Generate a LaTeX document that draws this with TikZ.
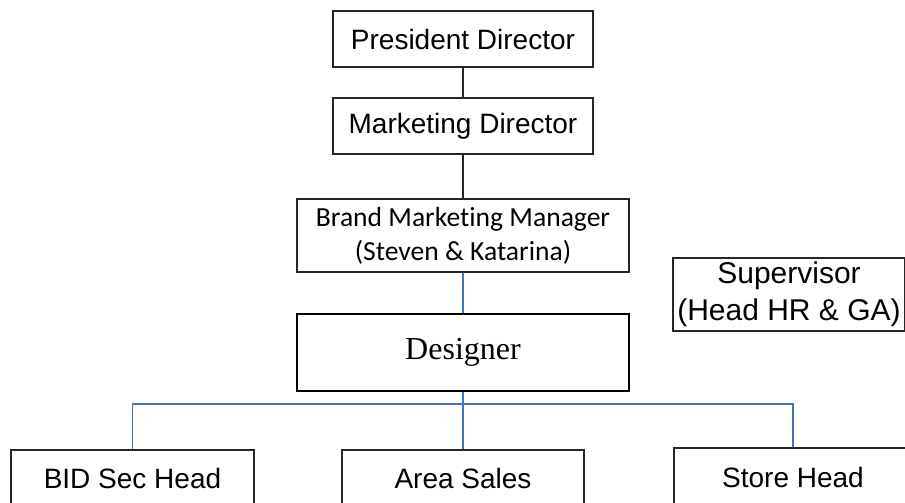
\documentclass[tikz,border=0pt]{standalone}
\usepackage{fontspec}
\setmainfont{Liberation Sans}
\newfontfamily\calibrifont[Ligatures={NoCommon}]{Carlito}
\newfontfamily\timesfont{Liberation Serif}
\usepackage{tikz}

\definecolor{linkblue}{HTML}{4472C4}
\tikzset{
  box/.style={draw=black!85, line width=0.6pt, inner sep=0pt, align=center,
    font=\fontsize{14}{17}\selectfont},
  blackline/.style={draw=black!85, line width=0.6pt},
  blueline/.style={draw=linkblue, line width=0.7pt}
}

\begin{document}
\begin{tikzpicture}[x=0.5pt,y=-0.5pt]
  \useasboundingbox (0,0) rectangle (905,503);
  \clip (0,0) rectangle (905,503);

  \node [box, minimum width=130pt, minimum height=28pt] (pres) at (463,39) {President Director};
  \node [box, minimum width=130pt, minimum height=28pt] (mkt) at (463,126) {Marketing Director};

  \node [box, minimum width=166pt, minimum height=36.5pt,
    font=\calibrifont\fontsize{13.8}{17}\selectfont] (bmm) at (463,235.5)
    {Brand Marketing Manager\\(Steven \& Katarina)};

  \node [box, line width=1.1pt, draw=black, minimum width=166pt, minimum height=38.5pt,
    font=\timesfont\fontsize{16}{19}\selectfont] (des) at (463,352.5) {Designer};

  \node [box, minimum width=116pt, minimum height=36.5pt,
    font=\fontsize{15}{18.5}\selectfont] (sup) at (789,294.5) {Supervisor\\(Head HR \& GA)};

  \node [box, minimum width=121.5pt, minimum height=28pt] (bid) at (132.5,478) {BID Sec Head};
  \node [box, minimum width=121pt, minimum height=28pt] (area) at (463,478) {Area Sales};
  \node [box, minimum width=119pt, minimum height=29pt] (store) at (793,477) {Store Head};

  \coordinate (fork) at (463,404);

  \draw [blackline] (pres) -- (mkt);
  \draw [blackline] (mkt) -- (bmm);
  \draw [blueline] (bmm) -- (des);
  \draw [blueline] (des) -- (fork);
  \draw [blueline] (fork) -| (bid.north);
  \draw [blueline] (fork) -- (area.north);
  \draw [blueline] (fork) -| (store.north);
\end{tikzpicture}
\end{document}
